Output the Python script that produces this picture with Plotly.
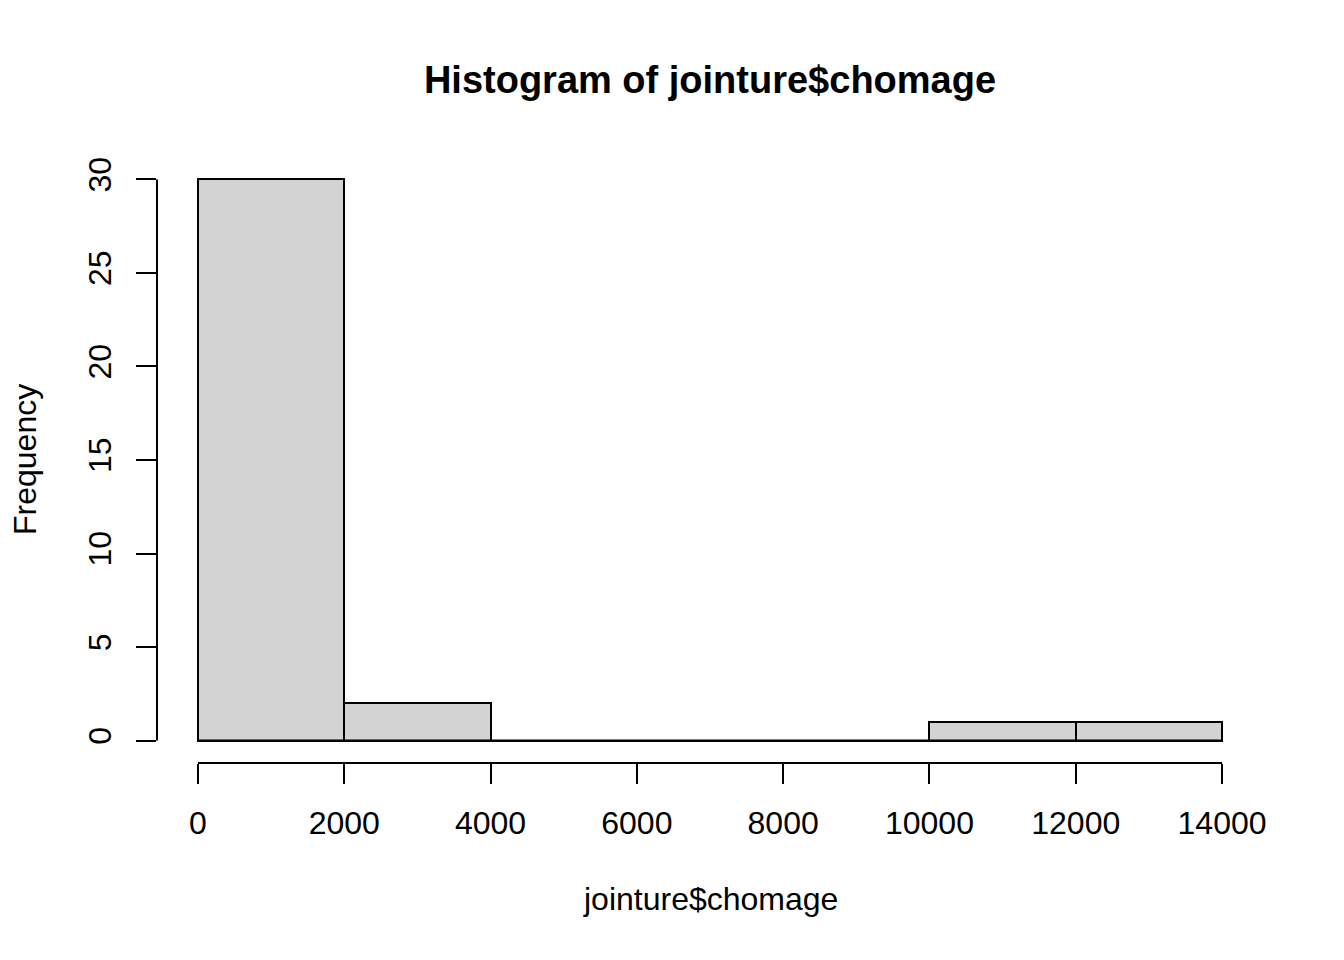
import plotly.graph_objects as go

# Data
bin_edges = [0, 2000, 4000, 6000, 8000, 10000, 12000, 14000]
counts = [30, 2, 0, 0, 0, 1, 1]
x_ticks = [0, 2000, 4000, 6000, 8000, 10000, 12000, 14000]
y_ticks = [0, 5, 10, 15, 20, 25, 30]

title_text = "Histogram of jointure$chomage"
x_label = "jointure$chomage"
y_label = "Frequency"

centers = [(bin_edges[i] + bin_edges[i + 1]) / 2 for i in range(len(counts))]
widths = [bin_edges[i + 1] - bin_edges[i] for i in range(len(counts))]

FONT = "Liberation Sans, Arial, sans-serif"

# R-style 4% axis extension
xr = bin_edges[-1] - bin_edges[0]
x_range = [bin_edges[0] - 0.04 * xr, bin_edges[-1] + 0.04 * xr]
ymax = max(counts)
y_range = [-0.04 * ymax, ymax * 1.04]

fig = go.Figure()
fig.add_trace(go.Bar(
    x=centers, y=counts, width=widths,
    marker=dict(color="#D3D3D3", line=dict(color="black", width=2)),
    showlegend=False, hoverinfo="skip",
))
# baseline for empty bins (R draws zero-height rectangles)
fig.add_trace(go.Scatter(
    x=[bin_edges[0], bin_edges[-1]], y=[0, 0], mode="lines",
    line=dict(color="black", width=2), showlegend=False, hoverinfo="skip",
))

# R-style axis lines spanning first to last tick
fig.add_shape(type="line", xref="x", yref="paper", x0=x_ticks[0], x1=x_ticks[-1],
              y0=0, y1=0, line=dict(color="black", width=2))
fig.add_shape(type="line", xref="paper", yref="y", x0=0, x1=0,
              y0=y_ticks[0], y1=y_ticks[-1], line=dict(color="black", width=2))

OFF = 8  # page body margin offset
W, H = 1344, 960
ml, mr, mt, mb = 157 - OFF, 81 + OFF, 156.5 - OFF, 196.5 + OFF
pw, ph = W - ml - mr, H - mt - mb

fig.update_layout(
    width=W, height=H,
    margin=dict(l=ml, r=mr, t=mt, b=mb, pad=0),
    paper_bgcolor="white", plot_bgcolor="white",
    font=dict(family=FONT, size=32, color="black"),
    bargap=0,
    title=dict(text="<b>" + title_text + "</b>", font=dict(family=FONT, size=38, color="black"),
               x=(ml + pw / 2) / W, xref="container", xanchor="center",
               y=1 - (80 - OFF) / H, yref="container", yanchor="middle"),
    xaxis=dict(range=x_range, tickvals=x_ticks, ticktext=[str(v) for v in x_ticks],
               showgrid=False, zeroline=False, showline=False,
               ticks="outside", ticklen=20, tickwidth=2, tickcolor="black",
               ticklabelstandoff=12, tickfont=dict(size=32)),
    yaxis=dict(range=y_range, tickvals=y_ticks, ticktext=[str(v) for v in y_ticks],
               showgrid=False, zeroline=False, showline=False,
               ticks="outside", ticklen=20, tickwidth=2, tickcolor="black",
               tickangle=-90, ticklabelstandoff=12, tickfont=dict(size=32)),
    annotations=[
        dict(text=x_label, xref="paper", yref="paper", x=0.5,
             y=-(900 - OFF - (mt + ph)) / ph,
             xanchor="center", yanchor="middle", showarrow=False, font=dict(size=32)),
        dict(text=y_label, xref="paper", yref="paper", x=(25 - OFF - ml) / pw, y=0.5,
             xanchor="center", yanchor="middle", textangle=-90, showarrow=False,
             font=dict(size=32)),
    ],
)

fig.write_html("out.html")
